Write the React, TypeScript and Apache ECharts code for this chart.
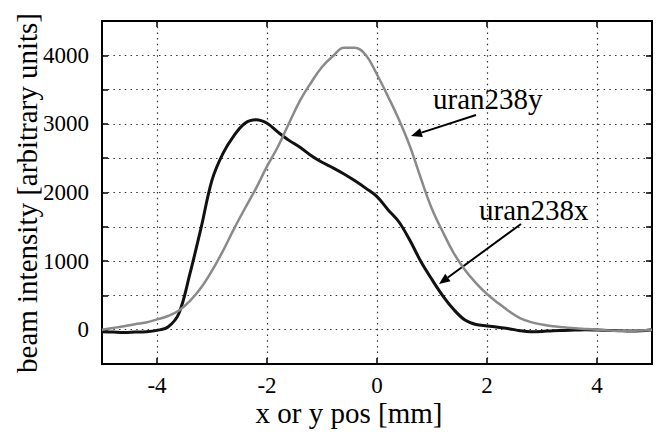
import React, { useEffect, useRef } from "react";
import * as echarts from "echarts";

// positions along the profile [mm]
const positions = [
  -5.0, -4.8, -4.6, -4.4, -4.2, -4.0, -3.8, -3.6, -3.4, -3.2, -3.0, -2.8, -2.6,
  -2.4, -2.2, -2.0, -1.8, -1.6, -1.4, -1.2, -1.0, -0.8, -0.6, -0.4, -0.2, 0.0,
  0.2, 0.4, 0.6, 0.8, 1.0, 1.2, 1.4, 1.6, 1.8, 2.0, 2.2, 2.4, 2.6, 2.8, 3.0,
  3.2, 3.4, 3.6, 3.8, 4.0, 4.2, 4.4, 4.6, 4.8, 5.0,
];

// uran238x (black)
const uran238x = [
  -30, -35, -40, -35, -30, -10, 40, 240, 820, 1480, 2180, 2570, 2830, 3010,
  3060, 3010, 2880, 2760, 2660, 2540, 2440, 2360, 2270, 2170, 2060, 1940, 1750,
  1570, 1300, 990, 730, 490, 290, 140, 75, 55, 35, 15, -15, -30, -25, -15, -10,
  -5, 0, -5, -10, -15, -20, -15, 0,
];

// uran238y (grey)
const uran238y = [
  0, 25, 50, 80, 105, 150, 200, 280, 420, 610, 860, 1150, 1470, 1770, 2060,
  2380, 2670, 3010, 3340, 3600, 3830, 3990, 4110, 4110, 4000, 3720, 3400, 3060,
  2670, 2200, 1760, 1420, 1110, 870, 680, 520, 390, 270, 170, 110, 75, 50, 35,
  20, 10, 0, -10, -15, -15, -10, 0,
];

const xTicks = [-4, -2, 0, 2, 4];
const yLabels = [0, 1000, 2000, 3000, 4000];

const FONT = "Liberation Serif";

function arrow(x1: number, y1: number, x2: number, y2: number) {
  const dx = x2 - x1;
  const dy = y2 - y1;
  const len = Math.sqrt(dx * dx + dy * dy);
  const ux = dx / len;
  const uy = dy / len;
  const hl = 11;
  const hw = 4.5;
  const bx = x2 - hl * ux;
  const by = y2 - hl * uy;
  const nx = -uy;
  const ny = ux;
  return [
    {
      type: "line",
      shape: { x1, y1, x2: bx, y2: by },
      style: { stroke: "#000", lineWidth: 2 },
    },
    {
      type: "polygon",
      shape: {
        points: [
          [x2, y2],
          [bx + hw * nx, by + hw * ny],
          [bx - hw * nx, by - hw * ny],
        ],
      },
      style: { fill: "#000" },
    },
  ];
}

export default function App() {
  const ref = useRef<HTMLDivElement>(null);
  useEffect(() => {
    document.body.style.margin = "0";
    const chart = echarts.init(ref.current!, null, { renderer: "svg" });
    const dotted = { type: [1.5, 4.2], color: "#333", width: 1.2 };
    const xData1 = positions.map((p, i) => [p, uran238x[i]]);
    const yData1 = positions.map((p, i) => [p, uran238y[i]]);
    const tickLabel = {
      fontSize: 23,
      fontFamily: FONT,
      fontWeight: "normal",
      color: "#000",
    };
    chart.setOption({
      animation: false,
      backgroundColor: "#fff",
      textStyle: { fontFamily: FONT },
      grid: { left: 102, right: 4, top: 21, bottom: 70 },
      xAxis: [
        {
          type: "value",
          min: -5,
          max: 5,
          position: "bottom",
          axisLine: { show: true, onZero: false, lineStyle: { color: "#000", width: 2 } },
          axisTick: { show: true, inside: true, length: 6, customValues: xTicks, lineStyle: { color: "#000", width: 1.5 } },
          axisLabel: {
            ...tickLabel,
            customValues: xTicks,
            margin: 10,
          },
          splitLine: { show: true, lineStyle: dotted },
        },
        {
          type: "value",
          min: -5,
          max: 5,
          position: "top",
          axisLine: { show: true, onZero: false, lineStyle: { color: "#000", width: 2 } },
          axisTick: { show: true, inside: true, length: 6, customValues: xTicks, lineStyle: { color: "#000", width: 1.5 } },
          axisLabel: { show: false },
          splitLine: { show: false },
        },
      ],
      yAxis: [
        {
          type: "value",
          min: -500,
          max: 4500,
          interval: 500,
          position: "left",
          axisLine: { show: true, onZero: false, lineStyle: { color: "#000", width: 2 } },
          axisTick: { show: true, inside: true, length: 6, lineStyle: { color: "#000", width: 1.5 } },
          axisLabel: {
            ...tickLabel,
            margin: 13,
            formatter: (v: number) => (yLabels.indexOf(v) >= 0 ? String(v) : ""),
          },
          splitLine: { show: true, lineStyle: dotted },
        },
        {
          type: "value",
          min: -500,
          max: 4500,
          interval: 500,
          position: "right",
          axisLine: { show: true, onZero: false, lineStyle: { color: "#000", width: 2 } },
          axisTick: { show: true, inside: true, length: 6, lineStyle: { color: "#000", width: 1.5 } },
          axisLabel: { show: false },
          splitLine: { show: false },
        },
      ],
      series: [
        {
          name: "uran238x",
          type: "line",
          data: xData1,
          showSymbol: false,
          smooth: 0.35,
          lineStyle: { color: "#111", width: 3 },
          z: 3,
        },
        {
          name: "uran238y",
          type: "line",
          data: yData1,
          showSymbol: false,
          smooth: 0.4,
          lineStyle: { color: "#8a8a8a", width: 2.5 },
          z: 4,
        },
      ],
      graphic: [
        {
          type: "text",
          x: 27,
          y: 193,
          rotation: Math.PI / 2,
          style: {
            text: "beam intensity [arbitrary units]",
            fontSize: 29,
            fontFamily: FONT,
            fill: "#000",
            align: "center",
            verticalAlign: "middle",
          },
        },
        {
          type: "text",
          x: 349,
          y: 413,
          style: {
            text: "x or y pos [mm]",
            fontSize: 29,
            fontFamily: FONT,
            fill: "#000",
            align: "center",
            verticalAlign: "middle",
          },
        },
        {
          type: "text",
          x: 433,
          y: 99,
          style: {
            text: "uran238y",
            fontSize: 29,
            fontFamily: FONT,
            fill: "#000",
            align: "left",
            verticalAlign: "middle",
          },
        },
        {
          type: "text",
          x: 479,
          y: 210,
          style: {
            text: "uran238x",
            fontSize: 29,
            fontFamily: FONT,
            fill: "#000",
            align: "left",
            verticalAlign: "middle",
          },
        },
        ...arrow(476, 115, 411, 136),
        ...arrow(521, 224, 439, 284),
      ],
    });
    return () => chart.dispose();
  }, []);
  return (
    <div
      ref={ref}
      style={{ width: 656, height: 434, position: "fixed", left: 0, top: 0 }}
    />
  );
}
